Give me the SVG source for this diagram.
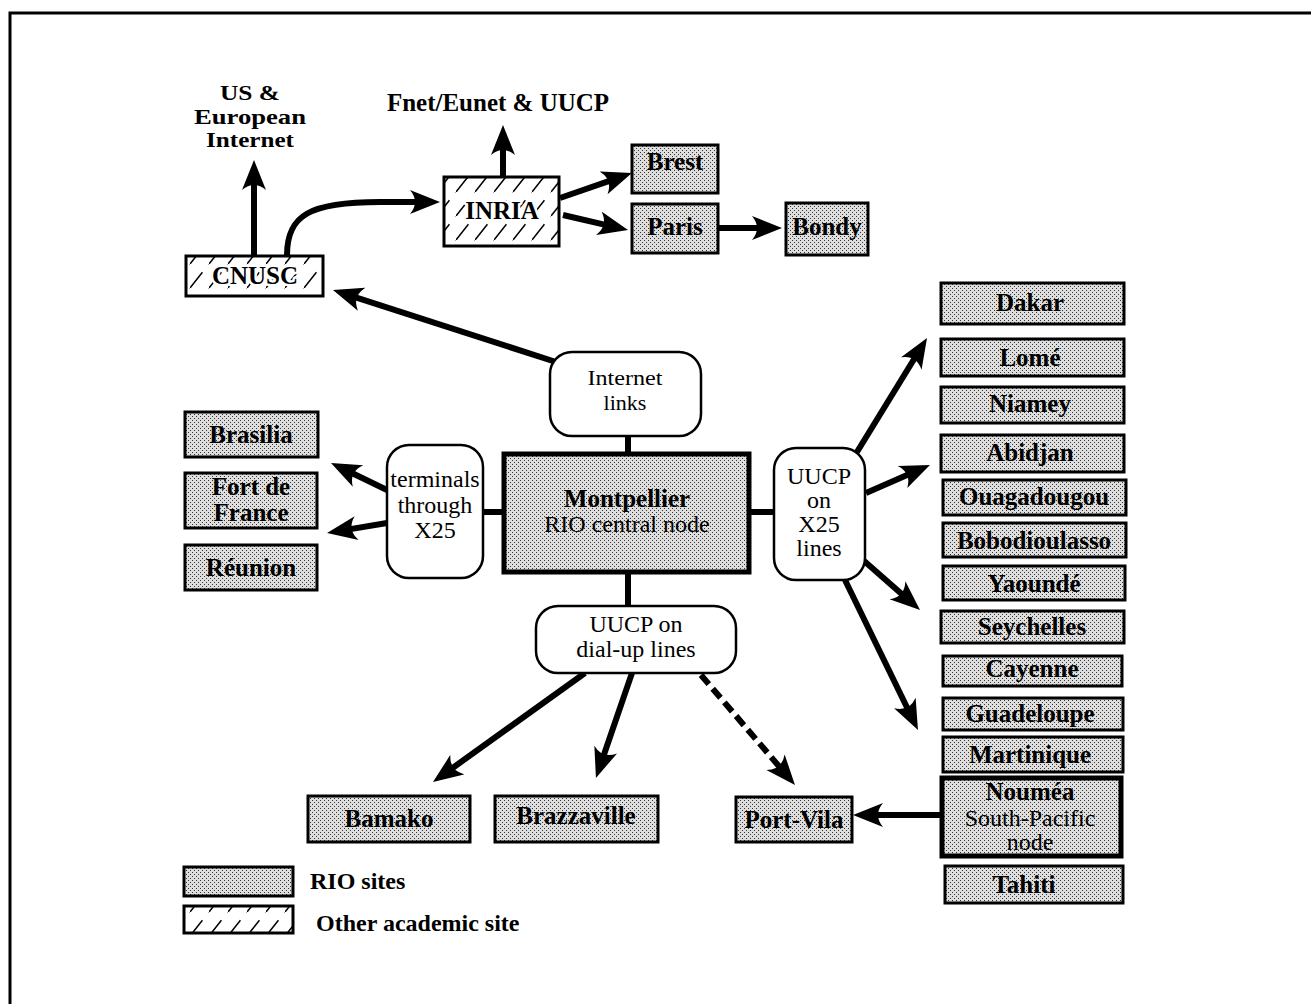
<svg xmlns="http://www.w3.org/2000/svg" width="1311" height="1004" viewBox="0 0 1311 1004">
<style>
  text { font-family: "Liberation Serif", "Times New Roman", serif; fill: #000; text-anchor: middle; }
  .b { font-weight: bold; font-size: 25px; }
  .r { font-size: 24px; }
  .top { font-weight: bold; font-size: 21px; }
  .leg { font-weight: bold; font-size: 24px; text-anchor: start; }
  .halo { stroke: #fff; stroke-width: 5; paint-order: stroke; stroke-linejoin: round; }
  .rio { fill: url(#dots); stroke: #000; stroke-width: 3; }
  .rio-thick { fill: url(#dots); stroke: #000; stroke-width: 5; }
  .acad { fill: url(#hatch); stroke: #000; stroke-width: 3; }
  .hub { fill: #fff; stroke: #000; stroke-width: 2.5; }
  .link { fill: none; stroke: #000; stroke-width: 6; }
  .arrow { fill: none; stroke: #000; stroke-width: 6; marker-end: url(#ah); }
  .dash { stroke-dasharray: 12 6; }
  .frame { stroke: #000; stroke-width: 3; fill: none; }
</style>
<defs>
  <pattern id="dots" patternUnits="userSpaceOnUse" width="4" height="4">
    <rect width="4" height="4" fill="#dedede"/>
    <rect x="0" y="0" width="1" height="1" fill="#333"/>
    <rect x="2" y="2" width="1" height="1" fill="#333"/>
  </pattern>
  <pattern id="hatch" patternUnits="userSpaceOnUse" width="19" height="24">
    <rect width="19" height="24" fill="#fff"/>
    <line x1="0" y1="24" x2="19" y2="0" stroke="#000" stroke-width="1.5" stroke-dasharray="20 10"/>
  </pattern>
  <marker id="ah" markerUnits="userSpaceOnUse" viewBox="0 0 32 26" markerWidth="32" markerHeight="26" refX="20" refY="13" orient="auto">
    <path d="M30,13 L0,1 Q10,13 0,25 Z" fill="#000"/>
  </marker>
</defs>

<rect width="1311" height="1004" fill="#fff"/>
<path class="frame" d="M10,1004 L10,13 L1311,13"/>

<g id="connectors">
  <path class="arrow" d="M254,255 L254,170"/>
  <path class="arrow" d="M503,177 L503,135"/>
  <path class="arrow" d="M287,255 C287,215 310,202 380,202 L430,202"/>
  <path class="arrow" d="M560,198 L622.5,176.3"/>
  <path class="arrow" d="M563,215 L618.3,227.8"/>
  <path class="arrow" d="M718,228 L772,228"/>
  <path class="arrow" d="M556,362 L342.5,293.1"/>
  <path class="link" d="M628,436 L628,453"/>
  <path class="link" d="M483,512 L503,512"/>
  <path class="link" d="M750,512 L774,512"/>
  <path class="link" d="M628,573 L628,606"/>
  <path class="arrow" d="M387,490 L340,467.3"/>
  <path class="arrow" d="M387,523 L336.9,531.4"/>
  <path class="arrow" d="M857,452 L921.8,346.5"/>
  <path class="arrow" d="M866,493 L920.8,469"/>
  <path class="arrow" d="M863,560 L912.5,603.4"/>
  <path class="arrow" d="M845,580 L913.6,721"/>
  <path class="arrow" d="M585,673 L441.1,776.2"/>
  <path class="arrow" d="M632,673 L599.2,768.5"/>
  <path class="arrow dash" d="M701,675 L788.5,777.4"/>
  <path class="arrow" d="M941,815 L863,815"/>
</g>

<g id="label-us-internet">
  <text class="top" x="250" y="100" textLength="60" lengthAdjust="spacingAndGlyphs">US &amp;</text>
  <text class="top" x="250" y="123.5" textLength="112" lengthAdjust="spacingAndGlyphs">European</text>
  <text class="top" x="250" y="147" textLength="88" lengthAdjust="spacingAndGlyphs">Internet</text>
</g>
<g id="label-fnet">
  <text class="b" x="498" y="111">Fnet/Eunet &amp; UUCP</text>
</g>

<g id="cnusc"><rect class="acad" x="186" y="256" width="137" height="40"/><text class="b halo" x="255" y="284">CNUSC</text></g>
<g id="inria"><rect class="acad" x="444" y="177" width="115" height="69"/><text class="b halo" x="502" y="219">INRIA</text></g>
<g id="brest"><rect class="rio" x="632" y="145" width="86" height="48"/><text class="b" x="675" y="170">Brest</text></g>
<g id="paris"><rect class="rio" x="632" y="204" width="86" height="49"/><text class="b" x="675" y="235">Paris</text></g>
<g id="bondy"><rect class="rio" x="786" y="203" width="82" height="52"/><text class="b" x="827" y="235">Bondy</text></g>

<g id="internet-links"><rect class="hub" x="550" y="352" width="151" height="84" rx="22"/><text class="r" x="625" y="385" style="font-size:22px" textLength="75" lengthAdjust="spacingAndGlyphs">Internet</text><text class="r" x="625" y="410" style="font-size:22px">links</text></g>
<g id="montpellier"><rect class="rio-thick" x="504" y="454" width="245" height="118"/><text class="b" x="627" y="507">Montpellier</text><text class="r" x="627" y="532">RIO central node</text></g>
<g id="terminals"><rect class="hub" x="387" y="445" width="96" height="133" rx="22"/><text class="r" x="435" y="487">terminals</text><text class="r" x="435" y="513">through</text><text class="r" x="435" y="538">X25</text></g>
<g id="uucp-x25"><rect class="hub" x="774" y="448" width="91" height="132" rx="22"/><text class="r" x="819" y="484">UUCP</text><text class="r" x="819" y="508">on</text><text class="r" x="819" y="532">X25</text><text class="r" x="819" y="556">lines</text></g>
<g id="uucp-dialup"><rect class="hub" x="536" y="606" width="200" height="67" rx="22"/><text class="r" x="636" y="632">UUCP on</text><text class="r" x="636" y="657">dial-up lines</text></g>

<g id="brasilia"><rect class="rio" x="185" y="412" width="133" height="45"/><text class="b" x="251" y="443">Brasilia</text></g>
<g id="fort-de-france"><rect class="rio" x="185" y="473" width="132" height="55"/><text class="b" x="251" y="495">Fort de</text><text class="b" x="251" y="521">France</text></g>
<g id="reunion"><rect class="rio" x="185" y="545" width="132" height="45"/><text class="b" x="251" y="576">Réunion</text></g>

<g id="dakar"><rect class="rio" x="941" y="283" width="183" height="41"/><text class="b" x="1030" y="311">Dakar</text></g>
<g id="lome"><rect class="rio" x="941" y="339" width="183" height="37"/><text class="b" x="1030" y="366">Lomé</text></g>
<g id="niamey"><rect class="rio" x="941" y="387" width="183" height="36"/><text class="b" x="1030" y="412">Niamey</text></g>
<g id="abidjan"><rect class="rio" x="941" y="435" width="183" height="37"/><text class="b" x="1030" y="461">Abidjan</text></g>
<g id="ouagadougou"><rect class="rio" x="943" y="480" width="183" height="35"/><text class="b" x="1034" y="505">Ouagadougou</text></g>
<g id="bobodioulasso"><rect class="rio" x="943" y="523" width="183" height="34"/><text class="b" x="1034" y="549">Bobodioulasso</text></g>
<g id="yaounde"><rect class="rio" x="943" y="566" width="182" height="34"/><text class="b" x="1034" y="592">Yaoundé</text></g>
<g id="seychelles"><rect class="rio" x="941" y="611" width="183" height="32"/><text class="b" x="1032" y="635">Seychelles</text></g>
<g id="cayenne"><rect class="rio" x="943" y="656" width="179" height="30"/><text class="b" x="1032" y="677">Cayenne</text></g>
<g id="guadeloupe"><rect class="rio" x="943" y="698" width="180" height="32"/><text class="b" x="1030" y="722">Guadeloupe</text></g>
<g id="martinique"><rect class="rio" x="943" y="737" width="180" height="35"/><text class="b" x="1030" y="763">Martinique</text></g>
<g id="noumea"><rect class="rio-thick" x="942" y="778" width="179" height="78"/><text class="b" x="1030" y="800">Nouméa</text><text class="r" x="1030" y="826">South-Pacific</text><text class="r" x="1030" y="850">node</text></g>
<g id="tahiti"><rect class="rio" x="945" y="866" width="178" height="37"/><text class="b" x="1024" y="893">Tahiti</text></g>

<g id="bamako"><rect class="rio" x="308" y="796" width="162" height="46"/><text class="b" x="389" y="827">Bamako</text></g>
<g id="brazzaville"><rect class="rio" x="495" y="796" width="163" height="46"/><text class="b" x="576" y="824">Brazzaville</text></g>
<g id="port-vila"><rect class="rio" x="736" y="797" width="116" height="45"/><text class="b" x="794" y="828">Port-Vila</text></g>

<g id="legend">
  <rect class="rio" x="184" y="867" width="109" height="29"/>
  <text class="leg" x="310" y="889">RIO sites</text>
  <rect class="acad" x="184" y="906" width="109" height="27"/>
  <text class="leg" x="316" y="931">Other academic site</text>
</g>
</svg>
